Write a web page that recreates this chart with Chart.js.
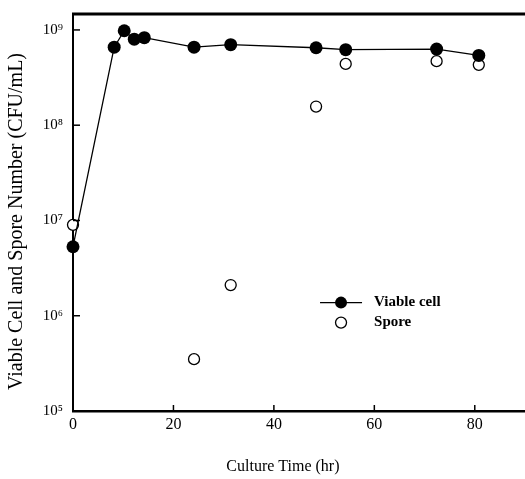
<!DOCTYPE html>
<html>
<head>
<meta charset="utf-8">
<script src="https://cdn.jsdelivr.net/npm/chart.js@4"></script>
<style>
  html, body { margin: 0; padding: 0; background: #fff; }
  #wrap { width: 525px; height: 479px; }
</style>
</head>
<body>
<div id="wrap"><canvas id="growthChart" width="525" height="479"></canvas></div>
<script>
// culture time (hr)
const viableTime = [0, 8.2, 10.2, 12.2, 14.2, 24.1, 31.4, 48.4, 54.3, 72.4, 80.8];
const viableCount = [5.3e6, 6.6e8, 9.8e8, 8.0e8, 8.3e8, 6.6e8, 7.0e8, 6.5e8, 6.2e8, 6.3e8, 5.4e8];

const sporeTime = [0, 24.1, 31.4, 48.4, 54.3, 72.4, 80.8];
const sporeCount = [9.0e6, 3.5e5, 2.1e6, 1.57e8, 4.4e8, 4.7e8, 4.3e8];

const xTicks = [0, 20, 40, 60, 80];
const yTicks = [1e5, 1e6, 1e7, 1e8, 1e9];
const supDigits = { '5': '\u2075', '6': '\u2076', '7': '\u2077', '8': '\u2078', '9': '\u2079' };

const serif = '"Liberation Serif", "DejaVu Serif", serif';

const viablePts = viableTime.map((t, i) => ({ x: t, y: viableCount[i] }));
const sporePts = sporeTime.map((t, i) => ({ x: t, y: sporeCount[i] }));

// frame, inward ticks, axis titles and legend
const decor = {
    id: 'decor',
    afterDraw(chart) {
        const ctx = chart.ctx;
        const a = chart.chartArea;
        const xs = chart.scales.x, ys = chart.scales.y;
        ctx.save();
        ctx.strokeStyle = '#000';
        // top border
        ctx.lineWidth = 3;
        ctx.beginPath();
        ctx.moveTo(a.left - 1, a.top);
        ctx.lineTo(a.right, a.top);
        ctx.stroke();
        // inward ticks
        ctx.lineWidth = 1.5;
        yTicks.forEach(v => {
            const p = ys.getPixelForValue(v);
            ctx.beginPath();
            ctx.moveTo(a.left, p);
            ctx.lineTo(a.left + 7, p);
            ctx.stroke();
        });
        xTicks.forEach(v => {
            const p = xs.getPixelForValue(v);
            ctx.beginPath();
            ctx.moveTo(p, a.bottom);
            ctx.lineTo(p, a.bottom - 6);
            ctx.stroke();
        });
        ctx.fillStyle = '#000';
        ctx.textAlign = 'center';
        ctx.textBaseline = 'middle';
        // x axis title (sits a bit left of centre in the original)
        ctx.font = '16px ' + serif;
        ctx.fillText('Culture Time (hr)', xs.getPixelForValue(41.8), a.bottom + 56);
        // y axis title (sits a bit below centre in the original)
        ctx.save();
        ctx.translate(17, (a.top + a.bottom) / 2 + 9);
        ctx.rotate(-Math.PI / 2);
        ctx.font = '20px ' + serif;
        ctx.fillText('Viable Cell and Spore Number (CFU/mL)', 0, 0);
        ctx.restore();
        // legend
        const lx = a.left + (a.right - a.left) * 0.593;
        const ly1 = a.top + (a.bottom - a.top) * 0.727;
        const ly2 = ly1 + 20;
        ctx.lineWidth = 1.3;
        ctx.beginPath();
        ctx.moveTo(lx - 21, ly1);
        ctx.lineTo(lx + 21, ly1);
        ctx.stroke();
        ctx.beginPath();
        ctx.arc(lx, ly1, 6, 0, Math.PI * 2);
        ctx.fill();
        ctx.fillStyle = '#fff';
        ctx.beginPath();
        ctx.arc(lx, ly2, 5.5, 0, Math.PI * 2);
        ctx.fill();
        ctx.stroke();
        ctx.fillStyle = '#000';
        ctx.font = 'bold 15px ' + serif;
        ctx.textAlign = 'left';
        ctx.fillText('Viable cell', lx + 33, ly1);
        ctx.fillText('Spore', lx + 33, ly2);
        ctx.restore();
    }
};

new Chart(document.getElementById('growthChart'), {
    type: 'scatter',
    data: {
        datasets: [
            {
                label: 'Viable cell',
                data: viablePts,
                showLine: true,
                borderColor: '#000',
                borderWidth: 1.3,
                backgroundColor: '#000',
                pointBackgroundColor: '#000',
                pointBorderColor: '#000',
                pointRadius: 6.5,
                pointBorderWidth: 0,
                order: 0
            },
            {
                label: 'Spore',
                data: sporePts,
                showLine: false,
                borderColor: '#000',
                pointBackgroundColor: '#fff',
                pointBorderColor: '#000',
                pointRadius: 5.5,
                pointBorderWidth: 1.3,
                order: 1
            }
        ]
    },
    options: {
        responsive: false,
        animation: false,
        clip: false,
        layout: { autoPadding: false, padding: { top: 14, right: 0, left: 0, bottom: 0 } },
        plugins: {
            legend: { display: false },
            tooltip: { enabled: false }
        },
        scales: {
            x: {
                type: 'linear',
                min: 0,
                max: 90,
                afterBuildTicks: s => { s.ticks = xTicks.map(v => ({ value: v })); },
                afterFit: s => { s.height = 68; s.paddingLeft = 0; s.paddingRight = 0; },
                border: { display: true, color: '#000', width: 2.5 },
                grid: { display: false, drawTicks: false },
                ticks: {
                    color: '#000',
                    padding: 4,
                    font: { family: serif, size: 16 }
                }
            },
            y: {
                type: 'logarithmic',
                min: 1e5,
                max: 1.47e9,
                afterBuildTicks: s => { s.ticks = yTicks.map(v => ({ value: v })); },
                afterFit: s => { s.width = 73; s.paddingTop = 0; s.paddingBottom = 0; },
                border: { display: true, color: '#000', width: 2 },
                grid: { display: false, drawTicks: false },
                ticks: {
                    color: '#000',
                    padding: 10,
                    font: { family: serif, size: 15 },
                    callback: v => '10' + supDigits[String(Math.round(Math.log10(v)))]
                }
            }
        }
    },
    plugins: [decor]
});
</script>
</body>
</html>
